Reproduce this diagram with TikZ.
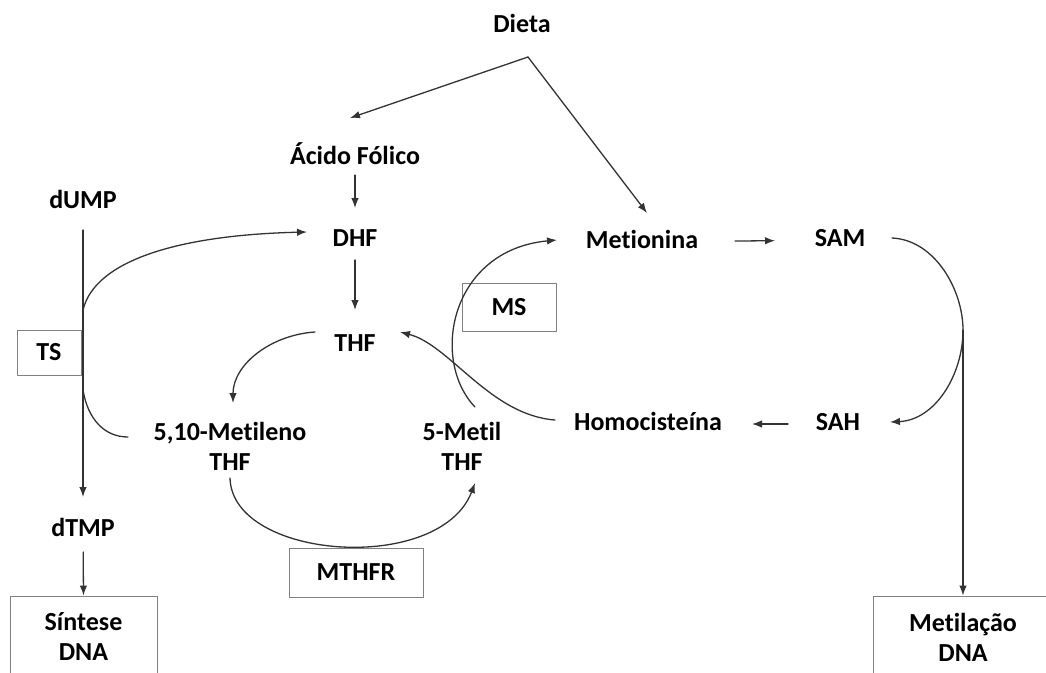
\documentclass[tikz,border=0pt]{standalone}
\usepackage{fontspec}
\setmainfont{Carlito}[Ligatures=NoCommon]
\usetikzlibrary{arrows.meta}

\begin{document}
\begin{tikzpicture}[x=1pt,y=-1pt,>={Latex[length=10pt,width=7.5pt]},
		font=\fontsize{26}{30}\selectfont\bfseries, line join=round, line cap=round,
		lbl/.style={inner sep=3pt, text height=18pt, text depth=6pt},
		two/.style={align=center, inner sep=3pt},
		enz/.style={draw=black!50, line width=0.9pt},
		flow/.style={->, draw=black!80, line width=1.3pt},
		link/.style={draw=black!80, line width=1.3pt}]
		\clip (0,0) rectangle (1046,672);
		% metabolitos
		\node[lbl] (dieta) at (522,26) {Dieta};
		\node[lbl] (acido) at (355,158) {Ácido Fólico};
		\node[lbl] (dhf) at (355,240) {DHF};
		\node[lbl] (thf) at (355,345) {THF};
		\node[lbl] (dump) at (83,202) {dUMP};
		\node[lbl] (dtmp) at (83,530) {dTMP};
		\node[lbl] (metionina) at (642,242) {Metionina};
		\node[lbl] (sam) at (840,240) {SAM};
		\node[lbl] (sah) at (838,424) {SAH};
		\node[lbl] (homo) at (648,424) {Homocisteína};
		\node[two] (metileno) at (230,446) {5,10-Metileno\\THF};
		\node[two] (metil) at (462,446) {5-Metil\\THF};
		\node[enz, two, minimum width=147, minimum height=82] (sintese) at (83.5,637) {Síntese\\DNA};
		\node[enz, two, minimum width=180, minimum height=82] (metilacao) at (963,637) {Metilação\\DNA};
		% enzimas
		\node[enz, minimum width=64, minimum height=45] (ts) at (49,352.5) {TS};
		\node[enz, minimum width=94, minimum height=48] (ms) at (509,307) {MS};
		\node[enz, minimum width=134, minimum height=49] (mthfr) at (356,572.5) {MTHFR};
		\coordinate (split) at (528,57);
		\coordinate (tsup) at (83,310);
		\coordinate (tsdown) at (83,390);
		\coordinate (turn) at (963,330);
		% setas
		\draw[flow] (split) -- ([xshift=-5pt,yshift=40pt]acido.center);
		\draw[flow] (split) -- ([xshift=5pt,yshift=29pt]metionina.center);
		\draw[flow, shorten <=17pt, shorten >=32pt] (acido.center) -- (dhf.center);
		\draw[flow, shorten <=20pt, shorten >=35pt] (dhf.center) -- (thf.center);
		\draw[flow, shorten <=28pt, shorten >=33pt] (dump.center) -- (dtmp.center);
		\draw[flow, shorten <=22pt] (dtmp.center) -- (sintese.north);
		\draw[flow, shorten <=93pt, shorten >=65pt] (metionina.center) -- (sam.center);
		\draw[flow, shorten <=50pt, shorten >=104pt] (sah.center) -- (homo.center);
		\draw[flow] (turn) -- (metilacao.north);
		\draw[flow] (tsup) ..controls +(12,-50) and +(-127,3).. ([xshift=-48pt,yshift=8pt]dhf.center);
		\draw[link] (tsdown) ..controls +(5,30) and +(-23,0).. ([xshift=-102pt,yshift=9pt]metileno.center);
		\draw[flow] ([xshift=-40pt,yshift=13pt]thf.center) ..controls +(-45,3) and +(0,-38).. ([xshift=3pt,yshift=43pt]metileno.center);
		\draw[flow] ([yshift=-32pt]metileno.center) ..controls +(2,82) and +(-35,92).. ([xshift=13pt,yshift=-37pt]metil.center);
		\draw[flow] ([xshift=13pt,yshift=39pt]metil.center) ..controls +(-45,-47) and +(-107,10).. ([xshift=-85pt,yshift=2pt]metionina.center);
		\draw[flow] ([xshift=-93pt,yshift=4pt]homo.center) ..controls +(-65,-5) and +(50,13).. ([xshift=45pt,yshift=13pt]thf.center);
		\draw[flow] ([xshift=52pt,yshift=2pt]sam.center) ..controls +(43,2) and +(0,-40).. (turn)
		..controls +(0,45) and +(45,-2).. ([xshift=52pt,yshift=2pt]sah.center);
	\end{tikzpicture}
\end{document}
